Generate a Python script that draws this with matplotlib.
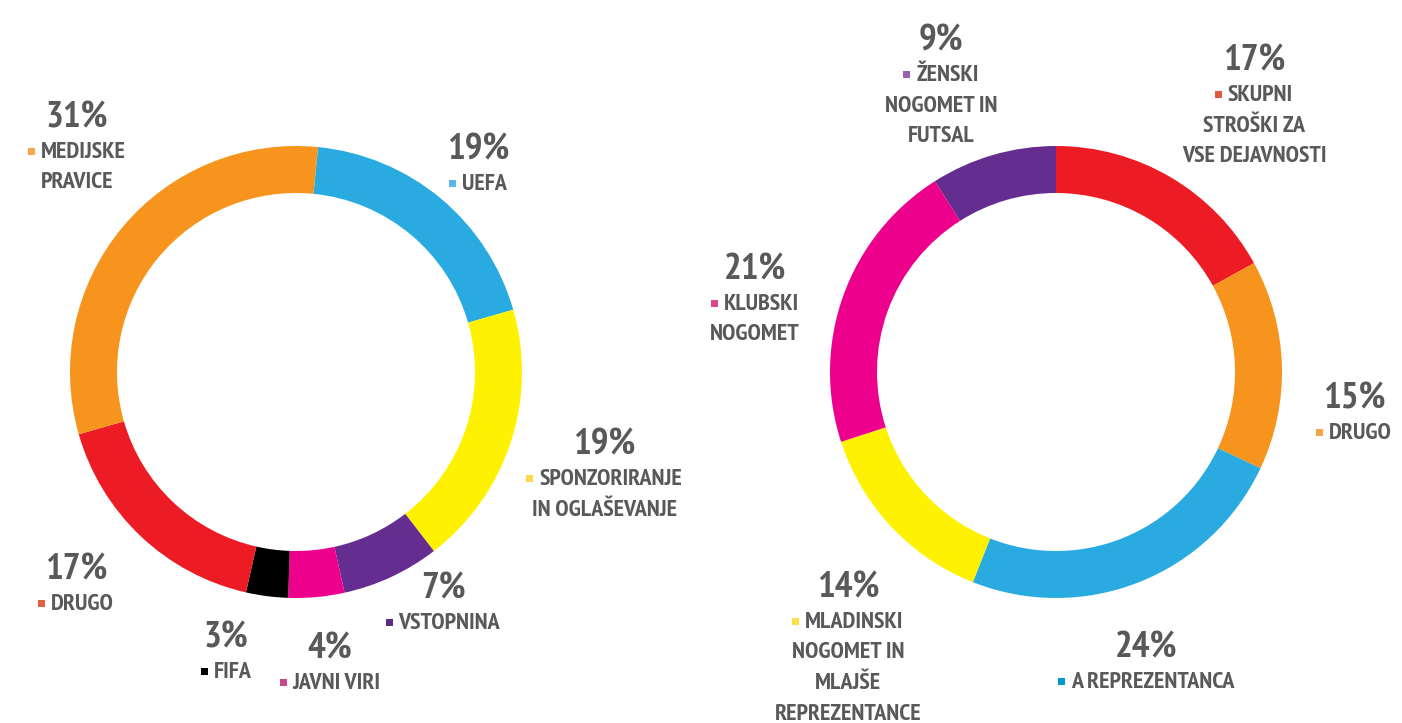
import matplotlib
matplotlib.use("Agg")
import matplotlib.pyplot as plt
from matplotlib import font_manager
from matplotlib.font_manager import FontProperties
from matplotlib.ft2font import FT2Font
from matplotlib.patches import Rectangle

# ---------------- data ----------------
left_labels = ["UEFA", "SPONZORIRANJE\nIN OGLAŠEVANJE", "VSTOPNINA", "JAVNI VIRI",
               "FIFA", "DRUGO", "MEDIJSKE\nPRAVICE"]
left_values = [19, 19, 7, 4, 3, 17, 31]
left_colors = ["#29abe2", "#fff200", "#662d91", "#ec008c", "#000000", "#ed1c24", "#f7941d"]
left_marker_colors = ["#5cb8e6", "#fcd84a", "#5b2c86", "#c94a8a", "#000000", "#e0603f", "#f9a54b"]

right_labels = ["SKUPNI\nSTROŠKI ZA\nVSE DEJAVNOSTI", "DRUGO", "A REPREZENTANCA",
                "MLADINSKI\nNOGOMET IN\nMLAJŠE\nREPREZENTANCE", "KLUBSKI\nNOGOMET",
                "ŽENSKI\nNOGOMET IN\nFUTSAL"]
right_values = [17, 15, 24, 14, 21, 9]
right_colors = ["#ed1c24", "#f7941d", "#29abe2", "#fff200", "#ec008c", "#662d91"]
right_marker_colors = ["#e05a40", "#f8a548", "#0099cc", "#fde047", "#d9488f", "#9b5fb5"]

# ---------------- layout (pixel coordinates, y from top) ----------------
W, H = 1402, 723
left_pos = [(478, 159), (604, 454), (443, 598), (330, 658), (226, 647), (76, 579), (77, 127)]
right_pos = [(1254, 70), (1354, 408), (1146, 657), (848, 597), (755, 279), (941, 50)]

available = {f.name for f in font_manager.fontManager.ttflist}
family = "DejaVu Sans"
weight = "bold"
for fam, wt in [("PT Sans Narrow", 700), ("Asap Condensed", 700),
                ("Fira Sans Condensed", 700), ("Open Sans Condensed", 700),
                ("Barlow Semi Condensed", 700), ("Archivo Narrow", 700),
                ("Liberation Sans Narrow", 700)]:
    if fam in available:
        family, weight = fam, wt
        break

try:
    fpath = font_manager.findfont(FontProperties(family=family, weight=weight))
    ft = FT2Font(fpath)
    cap_ratio = ft.get_sfnt_table("OS/2")["sCapHeight"] / ft.units_per_EM
    if not cap_ratio:
        cap_ratio = 0.7
except Exception:
    cap_ratio = 0.7

TEXT_COLOR = "#58595b"

fig = plt.figure(figsize=(W / 100, H / 100), dpi=100)
ax = fig.add_axes([0, 0, 1, 1])


def Y(y):
    return H - y


def donut(values, colors, center, start):
    ax.pie(values, colors=colors, startangle=start, counterclock=False,
           center=(center[0], Y(center[1])), radius=226,
           wedgeprops=dict(width=47, linewidth=0))


donut(left_values, left_colors, (296, 372), 84.4)
donut(right_values, right_colors, (1056, 372), 90)

ax.set_xlim(0, W)
ax.set_ylim(0, H)
ax.set_aspect("equal")
ax.axis("off")

fig.canvas.draw()
renderer = fig.canvas.get_renderer()


def width_of(s, size):
    t = ax.text(0, 0, s, fontsize=size, fontweight=weight, family=family)
    w = t.get_window_extent(renderer).width
    t.remove()
    return w


def fit(sample, width_px, cap_px):
    s_w = 20 * width_px / width_of(sample, 20)
    s_h = cap_px / cap_ratio * 72 / 100
    return 0.6 * s_w + 0.4 * s_h


PCT_SIZE = fit("19%", 60.0, 27.5)
LBL_SIZE = fit("A REPREZENTANCA", 161.0, 17.0)


def label(text, value, mcolor, pos):
    cx, pct_base = pos
    ax.text(cx, Y(pct_base), f"{value}%", ha="center", va="baseline",
            fontsize=PCT_SIZE, fontweight=weight, color=TEXT_COLOR, family=family)
    lines = text.split("\n")
    for i, line in enumerate(lines):
        base = pct_base + 31 + 30.5 * i
        if i == 0:
            t = ax.text(0, Y(base), line, ha="left", va="baseline", fontsize=LBL_SIZE,
                        fontweight=weight, color=TEXT_COLOR, family=family)
            w = t.get_window_extent(renderer).width
            msz, gap = 7, 6
            total = msz + gap + w
            x0 = cx - total / 2
            t.set_x(x0 + msz + gap)
            ax.add_patch(Rectangle((x0, Y(base - 3)), msz, msz, facecolor=mcolor,
                                   edgecolor="none"))
        else:
            ax.text(cx, Y(base), line, ha="center", va="baseline", fontsize=LBL_SIZE,
                    fontweight=weight, color=TEXT_COLOR, family=family)


for txt, v, mc, p in zip(left_labels, left_values, left_marker_colors, left_pos):
    label(txt, v, mc, p)
for txt, v, mc, p in zip(right_labels, right_values, right_marker_colors, right_pos):
    label(txt, v, mc, p)

fig.savefig("out.png", dpi=100)
